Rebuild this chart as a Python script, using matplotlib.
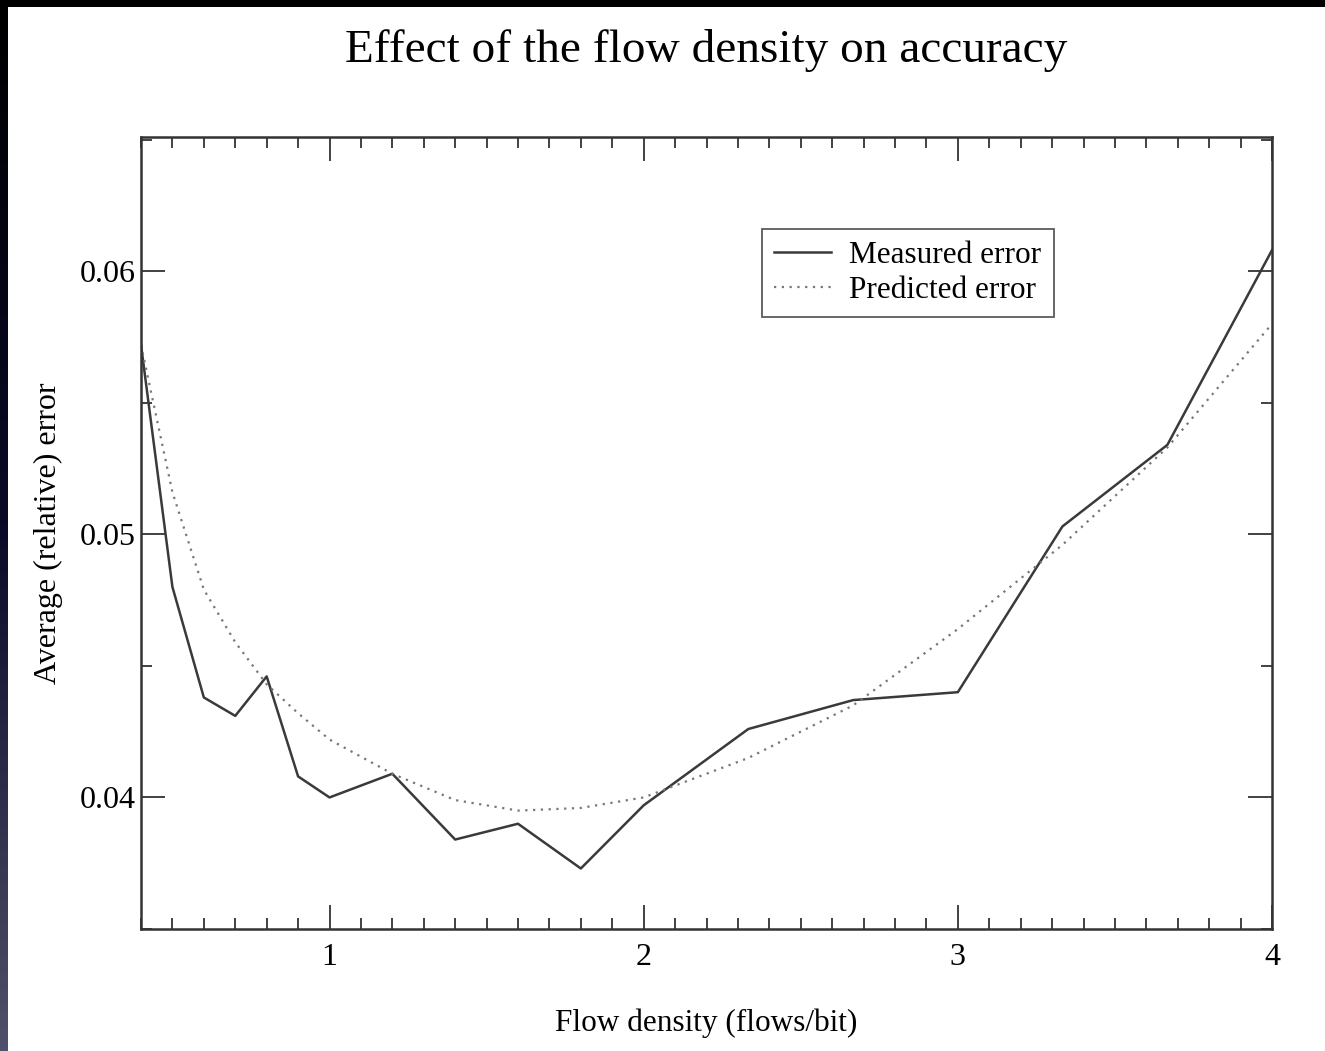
import numpy as np
import matplotlib.pyplot as plt
from matplotlib.ticker import MultipleLocator
from matplotlib.colors import LinearSegmentedColormap

# flow density (flows/bit)
density = [0.4, 0.5, 0.6, 0.7, 0.8, 0.9, 1.0, 1.2, 1.4, 1.6, 1.8, 2.0,
           2.333, 2.667, 3.0, 3.333, 3.667, 4.0]
measured = [0.0572, 0.0480, 0.0438, 0.0431, 0.0446, 0.0408, 0.0400, 0.0409,
            0.0384, 0.0390, 0.0373, 0.0397, 0.0426, 0.0437, 0.0440, 0.0503,
            0.0534, 0.0608]
predicted = [0.0572, 0.0516, 0.0479, 0.0459, 0.0443, 0.0432, 0.0422, 0.0409,
             0.0399, 0.0395, 0.0396, 0.0400, 0.0415, 0.0435, 0.0464, 0.0496,
             0.0533, 0.0580]

plt.rcParams['font.family'] = ['Liberation Serif', 'DejaVu Serif']

fig = plt.figure(figsize=(13.25, 10.51), dpi=100)
W, H = 1325, 1051
ax = fig.add_axes([141 / W, 1 - 929 / H, 1131 / W, 792 / H])

ax.plot(density, measured, color='#3a3a3a', lw=1.8, label='Measured error')
ax.plot(density, predicted, color='#777777', lw=1.6, ls=(0, (1, 2.5)),
        label='Predicted error')

ax.set_xlim(0.4, 4.0)
ax.set_ylim(0.035, 0.0651)
ax.xaxis.set_minor_locator(MultipleLocator(0.1))
ax.yaxis.set_minor_locator(MultipleLocator(0.005))
ax.set_xticks([1, 2, 3, 4])
ax.set_xticklabels(['1', '2', '3', '4'])
ax.set_yticks([0.04, 0.05, 0.06])
ax.set_yticklabels(['0.04', '0.05', '0.06'])
ax.tick_params(which='both', direction='in', top=True, right=True,
               labelsize=23, color='#333333', width=1.3)
ax.tick_params(which='major', length=17)
ax.tick_params(axis='x', which='major', pad=10)
ax.tick_params(axis='y', which='major', pad=4)
ax.tick_params(which='minor', length=8)
for s in ax.spines.values():
    s.set_linewidth(1.8)
    s.set_color('#333333')

ax.set_xlabel('Flow density (flows/bit)', fontsize=22.5, labelpad=26)
ax.set_ylabel('Average (relative) error', fontsize=23, labelpad=12)
fig.text(706 / W, 1 - 50 / H, 'Effect of the flow density on accuracy',
         fontsize=34, ha='center', va='center')

leg = ax.legend(loc='upper left', bbox_to_anchor=(0.549, 0.884), fontsize=22.5,
                frameon=True, fancybox=False, borderpad=0.4,
                handlelength=1.8, handletextpad=0.6, labelspacing=0.18,
                borderaxespad=0)
leg.get_frame().set_edgecolor('#333333')
leg.get_frame().set_linewidth(1.3)

# dark screen edges
cmap = LinearSegmentedColormap.from_list('edge', ['#000000', '#0a0a28', '#50506a'])
edge = fig.add_axes([0, 0, 8 / W, 1])
edge.imshow(np.linspace(0, 1, 200).reshape(-1, 1), aspect='auto', cmap=cmap)
edge.axis('off')
top = fig.add_axes([0, 1 - 7 / H, 1, 7 / H])
top.set_facecolor('black')
top.set_xticks([])
top.set_yticks([])
for s in top.spines.values():
    s.set_visible(False)

fig.savefig('out.png', dpi=100)
